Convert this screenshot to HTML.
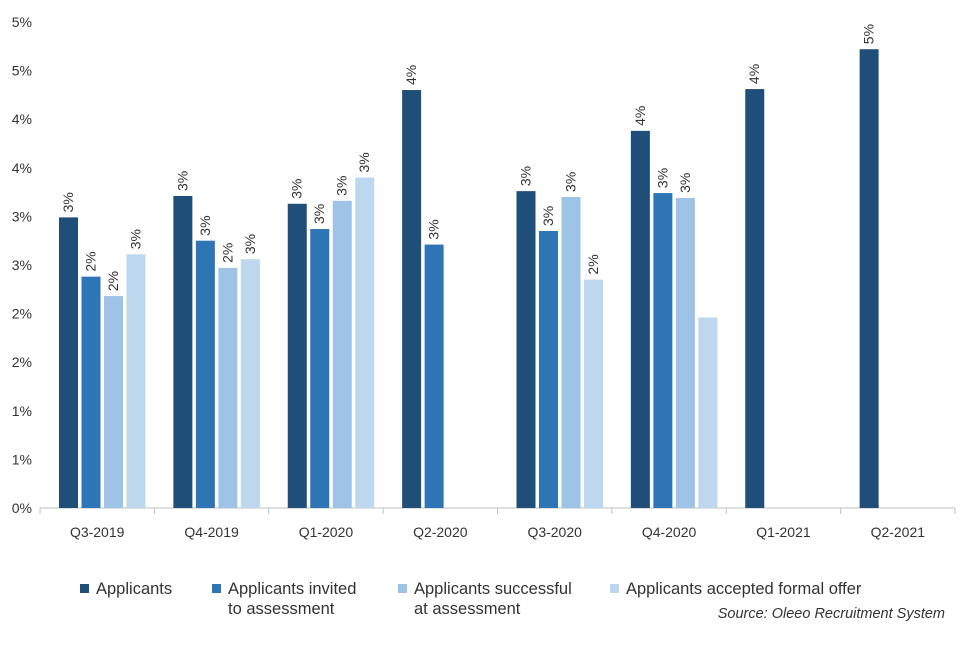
<!DOCTYPE html>
<html><head><meta charset="utf-8">
<style>
body{margin:0;background:#fff;font-family:"Liberation Sans",sans-serif;}
svg text{font-family:"Liberation Sans",sans-serif;fill:#333;}
</style></head><body>
<svg id="chart" width="960" height="640"></svg>
<script>
const categories=["Q3-2019","Q4-2019","Q1-2020","Q2-2020","Q3-2020","Q4-2020","Q1-2021","Q2-2021"];
const applicants=[2.99,3.21,3.13,4.30,3.26,3.88,4.31,4.72];
const invited=[2.38,2.75,2.87,2.71,2.85,3.24,null,null];
const successful=[2.18,2.47,3.16,null,3.20,3.19,null,null];
const accepted=[2.61,2.56,3.40,null,2.35,1.96,null,null];
const yTicks=[0,0.5,1,1.5,2,2.5,3,3.5,4,4.5,5];
const seriesNames=["Applicants","Applicants invited\nto assessment","Applicants successful\nat assessment","Applicants accepted formal offer"];
const series=[applicants,invited,successful,accepted];
const colors=["#1f4e79","#2e75b6","#9dc3e6","#bdd7ee"];
const NS="http://www.w3.org/2000/svg";
const svg=document.getElementById('chart');
const x0=40,x1=955,y0=508,yTop=22;
const catW=(x1-x0)/categories.length;
const y=v=>y0-(v/5)*(y0-yTop);
function mk(t,a,p){const e=document.createElementNS(NS,t);for(const k in a)e.setAttribute(k,a[k]);(p||svg).appendChild(e);return e;}
yTicks.forEach(t=>{
 const e=mk('text',{x:32,y:y(t)+5,'text-anchor':'end','font-size':14});
 e.textContent=Math.round(t)+'%';
 
 
});
const ax=mk('line',{x1:x0,x2:x1,y1:y0,y2:y0,stroke:'#bfbfbf'});


for(let i=0;i<=categories.length;i++){
 const tk=mk('line',{x1:x0+i*catW,x2:x0+i*catW,y1:y0,y2:y0+6,stroke:'#bfbfbf'});
 
 
}
categories.forEach((c,i)=>{
 const e=mk('text',{x:x0+catW*(i+0.5),y:y0+29,'text-anchor':'middle','font-size':14});
 e.textContent=c;
 
 
 series.forEach((s,j)=>{
  const v=s[i]; if(v==null)return;
  const bx=x0+i*catW+19+j*22.5;
  const r=mk('rect',{x:bx,y:y(v),width:19,height:y0-y(v),fill:colors[j]});
  
  
  if(j===3&&i===5)return;
  const lx=bx+14,ly=y(v)-5;
  const t=mk('text',{x:lx,y:ly,'font-size':14,transform:`rotate(-90 ${lx} ${ly})`});
  t.textContent=Math.round(v)+'%';
  
  
 });
});
const lx=[80,212,398,610];
seriesNames.forEach((n,j)=>{
 const sw=mk('rect',{x:lx[j],y:584,width:9,height:9,fill:colors[j]});
 
 
 n.split('\n').forEach((line,k)=>{
  const t=mk('text',{x:lx[j]+16,y:594+k*20,'font-size':16.5});
  t.textContent=line;
  
  
 });
});
const src=mk('text',{x:945,y:618,'text-anchor':'end','font-size':14.5,'font-style':'italic',fill:'#000'});
src.textContent='Source: Oleeo Recruitment System';


</script>
</body></html>
